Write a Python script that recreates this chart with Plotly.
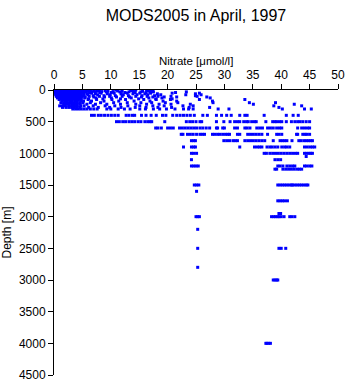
import plotly.graph_objects as go

# Sampling depths [m] and the nitrate concentrations [umol/l] measured at each
depth_levels = [0, 5, 10, 15, 20, 25, 30, 40, 50, 60, 75, 90, 100, 110, 125, 140, 150, 175,
                200, 225, 250, 275, 300, 400, 500, 600, 700, 800, 900, 1000, 1050, 1100,
                1200, 1250, 1500, 1600, 1750, 1950, 2000, 2200, 2500, 2800, 3000, 4000]

nitrate_0 = [0.2, 0.6, 0.9, 1.3, 1.7, 2.2, 2.6, 3.0, 3.5, 4.0, 4.4, 4.9, 5.4, 10.9, 14.4, 16.3]
nitrate_5 = [0.5, 0.9, 1.3, 1.7, 2.1, 2.6, 3.0, 3.5, 4.0, 4.5, 4.9, 6.4, 13.8, 17.1]
nitrate_10 = [0.1, 0.5, 0.8, 1.2, 1.6, 2.0, 2.4, 2.9, 3.3, 3.8, 4.2, 4.8, 5.3, 7.1, 9.0, 13.5, 17.4]
nitrate_15 = [0.4, 0.8, 1.2, 1.6, 2.0, 2.4, 2.8, 3.3, 3.7, 4.2, 4.7, 5.5, 6.2, 8.0, 11.2, 16.6]
nitrate_20 = [0.3, 0.7, 1.1, 1.5, 1.9, 2.3, 2.7, 3.2, 3.6, 4.1, 4.6, 5.9, 7.6, 9.5, 12.0, 15.6]
nitrate_25 = [0.7, 1.1, 1.5, 1.9, 2.3, 2.8, 3.2, 3.7, 4.1, 4.6, 5.1, 6.7, 8.4, 10.4, 14.0, 16.9]
nitrate_30 = [0.2, 0.6, 1.0, 1.4, 1.8, 2.2, 2.6, 3.1, 3.5, 4.0, 4.5, 5.6, 7.2, 9.2, 11.6, 13.2, 15.3, 17.5, 23.3]
nitrate_40 = [0.6, 1.0, 1.4, 1.8, 2.2, 2.7, 3.1, 3.6, 4.0, 4.5, 5.0, 6.3, 8.1, 10.1, 12.5, 14.3, 16.2, 21.4]
nitrate_50 = [0.1, 0.5, 0.9, 1.3, 1.7, 2.1, 2.5, 3.0, 3.4, 3.9, 4.3, 4.8, 5.3, 6.6, 8.3, 10.6, 12.9, 15.1, 17.0,
              20.8, 25.6]
nitrate_60 = [0.5, 0.9, 1.3, 1.7, 2.1, 2.6, 3.0, 3.5, 3.9, 4.4, 4.8, 5.9, 7.3, 9.4, 11.8, 13.9, 16.0, 18.2, 24.9]
nitrate_75 = [0.3, 0.7, 1.1, 1.5, 1.9, 2.3, 2.8, 3.2, 3.7, 4.1, 4.6, 5.3, 6.0, 7.7, 9.9, 12.2, 14.6, 16.5, 18.8,
              23.2, 25.9]
nitrate_90 = [0.7, 1.1, 1.5, 1.9, 2.3, 2.8, 3.2, 3.6, 4.1, 4.6, 5.2, 6.9, 8.8, 10.8, 13.1, 15.5, 17.7, 24.9]
nitrate_100 = [0.4, 0.8, 1.2, 1.6, 2.0, 2.5, 2.9, 3.3, 3.8, 4.3, 4.9, 6.2, 8.0, 9.8, 12.0, 14.4, 16.4, 18.3,
               20.6, 25.2]
nitrate_110 = [0.8, 1.2, 1.6, 2.0, 2.5, 2.9, 3.4, 3.8, 4.3, 4.8, 5.5, 7.0, 8.9, 11.0, 13.3, 15.4, 17.4, 19.4,
               21.6, 26.9]
nitrate_125 = [0.6, 1.0, 1.5, 1.9, 2.4, 2.8, 3.3, 3.7, 4.2, 4.7, 5.4, 7.4, 10.1, 13.6, 16.7, 19.0, 27.5]
nitrate_140 = [1.0, 1.5, 2.0, 2.4, 2.9, 3.4, 3.8, 4.3, 4.8, 6.1, 8.6, 11.7, 14.9, 17.9, 20.8]
nitrate_150 = [0.9, 1.4, 1.8, 2.3, 2.7, 3.2, 3.7, 4.2, 4.7, 6.0, 7.5, 10.2, 12.6, 15.8, 18.0, 20.5, 25.6, 33.6]
nitrate_175 = [1.4, 1.9, 2.3, 2.8, 3.2, 3.7, 4.1, 4.7, 5.2, 6.6, 8.8, 11.4, 14.1, 16.9, 19.2, 21.6, 27.9]
nitrate_200 = [1.2, 1.7, 2.2, 2.7, 3.1, 3.6, 4.1, 4.6, 5.1, 6.4, 8.2, 10.5, 12.9, 15.3, 17.2, 19.6, 21.8, 28.0,
               34.4, 39.0]
nitrate_225 = [1.7, 2.2, 2.7, 3.2, 3.6, 4.1, 4.6, 5.8, 7.3, 9.3, 11.7, 14.4, 16.3, 18.5, 20.6, 24.0, 35.1, 42.3]
nitrate_250 = [1.0, 1.5, 2.0, 2.6, 3.1, 3.6, 4.1, 4.7, 5.3, 6.9, 9.0, 10.7, 13.0, 15.1, 17.4, 19.4, 22.7, 24.5,
               38.7, 43.6]
nitrate_275 = [1.5, 2.1, 2.6, 3.1, 3.6, 4.1, 4.6, 6.1, 7.8, 9.8, 11.8, 14.3, 16.2, 18.3, 20.7, 23.8, 27.4, 39.6]
nitrate_300 = [3.3, 3.8, 4.3, 4.8, 5.3, 5.8, 6.4, 7.0, 7.6, 9.3, 10.0, 11.3, 12.4, 13.4, 15.1, 16.1, 17.5, 18.6,
               19.8, 21.3, 22.8, 23.7, 24.5, 28.9, 30.8, 40.2, 44.1, 45.3]
nitrate_400 = [6.6, 7.1, 7.8, 8.3, 8.9, 9.5, 10.1, 10.7, 11.3, 12.7, 13.2, 13.8, 14.2, 15.4, 16.2, 17.1, 18.0, 19.1,
               19.7, 20.9, 21.6, 22.2, 22.8, 23.4, 24.0, 24.7, 26.2, 27.0, 28.6, 29.5, 30.4, 31.2, 32.7, 33.6,
               34.0, 37.0, 40.9, 42.1, 43.0]
nitrate_500 = [11.0, 11.5, 12.1, 12.6, 13.2, 13.7, 14.2, 14.8, 15.3, 16.0, 16.5, 16.9, 17.2, 19.5, 23.3, 23.9,
               24.4, 25.0, 25.7, 26.0, 28.6, 29.9, 31.0, 31.8, 32.3, 32.7, 33.4, 33.9, 34.2, 34.8, 35.3, 35.6,
               37.3, 38.5, 38.9, 39.2, 39.7, 40.1, 40.9, 41.8, 42.4, 42.9, 43.3, 43.8, 44.4, 45.0]
nitrate_600 = [17.9, 18.3, 18.9, 20.0, 20.5, 21.0, 22.1, 22.6, 23.1, 23.6, 24.1, 24.6, 25.1, 25.7, 26.2, 26.8,
               27.4, 28.6, 28.8, 29.7, 30.0, 31.8, 32.3, 33.6, 34.0, 34.5, 35.7, 36.2, 36.7, 37.6, 38.1, 38.6,
               39.2, 39.7, 40.1, 42.9, 43.6, 44.1, 44.6, 45.0]
nitrate_700 = [22.4, 22.7, 23.5, 24.0, 24.5, 25.1, 25.7, 26.1, 26.5, 27.9, 28.3, 28.8, 29.2, 29.7, 30.2, 30.6,
               30.9, 32.3, 32.7, 34.1, 34.6, 35.1, 35.6, 36.1, 36.6, 37.6, 39.2, 39.6, 40.1, 42.7, 42.9, 43.8,
               44.2, 44.5, 45.0]
nitrate_800 = [24.2, 24.6, 24.9, 29.9, 30.4, 30.9, 31.5, 31.9, 32.3, 33.6, 34.1, 34.6, 35.1, 35.6, 36.1, 36.6,
               37.1, 38.6, 39.8, 40.2, 40.6, 41.0, 41.9, 43.1, 43.5, 44.0, 44.4, 44.8, 45.2, 45.5]
nitrate_900 = [22.8, 24.2, 24.6, 24.9, 32.7, 35.3, 35.8, 36.2, 36.6, 37.5, 38.0, 38.4, 38.9, 39.4, 40.1, 40.6,
               41.0, 41.5, 44.1, 44.6, 45.1, 45.5, 45.9]
nitrate_1000 = [24.2, 24.6, 25.1, 37.0, 37.4, 38.0, 38.5, 39.0, 39.5, 40.0, 40.5, 41.0, 41.5, 42.0, 42.5, 42.9,
                44.1, 44.5, 44.9, 45.2, 45.5]
nitrate_1050 = [44.4]
nitrate_1100 = [24.2, 38.9, 39.4, 39.9]
nitrate_1200 = [24.2, 24.6, 25.0, 25.4, 39.4, 39.8, 40.3, 41.0, 41.5, 42.0, 42.4, 44.1, 44.5, 45.0, 45.4]
nitrate_1250 = [38.9, 39.2, 40.3, 40.8, 41.3, 41.8, 42.3, 42.8, 43.2, 43.6]
nitrate_1500 = [24.7, 25.1, 25.5, 39.4, 39.8, 40.2, 40.6, 41.0, 41.4, 41.8, 42.0, 42.4, 42.8, 43.2, 43.6, 44.0,
                44.4, 44.7]
nitrate_1600 = [25.1]
nitrate_1750 = [39.4, 39.8, 40.2, 40.6, 41.1]
nitrate_1950 = [39.6, 39.9]
nitrate_2000 = [25.0, 25.3, 25.6, 38.3, 38.7, 39.0, 39.4, 39.6, 40.0, 40.5, 41.5, 41.9, 42.4]
nitrate_2200 = [25.3]
nitrate_2500 = [25.3, 39.6, 40.0, 40.8]
nitrate_2800 = [25.3]
nitrate_3000 = [38.6, 38.9, 39.2, 39.4]
nitrate_4000 = [37.3, 37.5, 37.8, 38.1]

profiles = [nitrate_0, nitrate_5, nitrate_10, nitrate_15, nitrate_20, nitrate_25, nitrate_30, nitrate_40,
            nitrate_50, nitrate_60, nitrate_75, nitrate_90, nitrate_100, nitrate_110, nitrate_125,
            nitrate_140, nitrate_150, nitrate_175, nitrate_200, nitrate_225, nitrate_250, nitrate_275,
            nitrate_300, nitrate_400, nitrate_500, nitrate_600, nitrate_700, nitrate_800, nitrate_900,
            nitrate_1000, nitrate_1050, nitrate_1100, nitrate_1200, nitrate_1250, nitrate_1500,
            nitrate_1600, nitrate_1750, nitrate_1950, nitrate_2000, nitrate_2200, nitrate_2500,
            nitrate_2800, nitrate_3000, nitrate_4000]

xs, ys = [], []
for d, vals in zip(depth_levels, profiles):
    xs.extend(vals)
    ys.extend([d] * len(vals))

FONT = "Liberation Sans, Arial, sans-serif"

fig = go.Figure(go.Scatter(
    x=xs, y=ys, mode="markers",
    marker=dict(symbol="square", size=3, color="#0000ff", line=dict(width=0)),
    hoverinfo="skip", showlegend=False,
))

axis_common = dict(
    showgrid=False, zeroline=False, showline=True, linecolor="black", linewidth=1,
    ticks="outside", ticklen=5, tickwidth=1, tickcolor="black",
    tickfont=dict(family=FONT, size=12, color="black"),
)

fig.update_layout(
    width=348, height=384,
    margin=dict(l=54, r=10, t=90, b=9, autoexpand=False),
    paper_bgcolor="white", plot_bgcolor="white",
    font=dict(family=FONT, color="black"),
    title=dict(text="MODS2005 in April, 1997", font=dict(family=FONT, size=16, color="black"),
               x=0.5, xref="paper", xanchor="center", y=1 - 15 / 384, yref="container",
               yanchor="middle"),
    xaxis=dict(axis_common, side="top", range=[0, 50], dtick=5, tick0=0),
    yaxis=dict(axis_common, range=[4500, 0], dtick=500, tick0=0,
               title=dict(text="Depth [m]", font=dict(family=FONT, size=12), standoff=4)),
    annotations=[dict(text="Nitrate [\u03bcmol/l]", xref="paper", yref="paper", x=0.5,
                      y=1 + 29 / 285, xanchor="center", yanchor="middle", showarrow=False,
                      borderpad=0, font=dict(family=FONT, size=11.5, color="black"))],
)

fig.write_html("out.html")
